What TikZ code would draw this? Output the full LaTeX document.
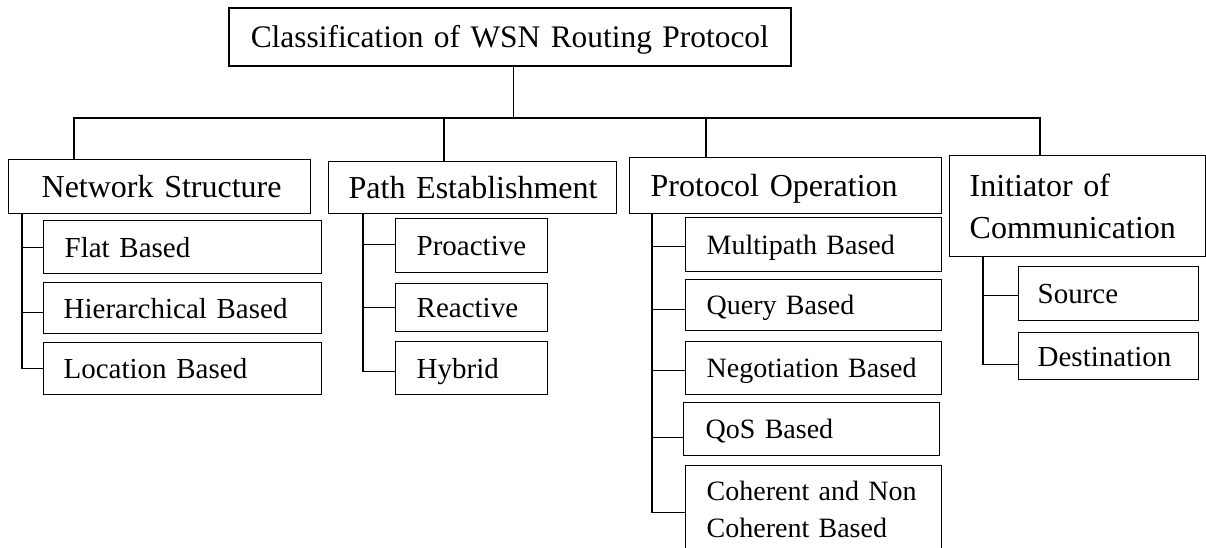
\documentclass[tikz,border=0pt]{standalone}
\usepackage{fontspec}
\setmainfont{Liberation Serif}
\tikzset{
  box/.style={draw, line width=1.3pt, rectangle, anchor=north west, inner xsep=0pt, inner ysep=0pt, align=left},
  lpad/.style={execute at begin node={\leftskip=#1\relax}},
  tfont/.style={font=\fontsize{31.4}{42}\selectfont},
  hfont/.style={font=\fontsize{32}{42}\selectfont},
  lfont/.style={font=\fontsize{29}{37}\selectfont},
  pfont/.style={font=\fontsize{28}{37}\selectfont},
  h32/.style={text height=22.4pt, text depth=0pt},
  h29/.style={text height=20.3pt, text depth=0pt},
  h28/.style={text height=19.6pt, text depth=0pt},
  link/.style={line width=1.3pt},
}
\begin{document}
\begin{tikzpicture}[x=1pt,y=-1pt]
\useasboundingbox (0,0) rectangle (1206,548);
\clip (0,0) rectangle (1206,548);
\coordinate (bar) at (0,118);

% title
\node[box,tfont,h32,align=center,text width=562pt,minimum height=58pt,line width=1.6pt] (title) at (228,7) {Classification of WSN Routing Protocol};

% categories
\node[box,hfont,h32,text width=302pt,minimum height=54pt,lpad=33pt] (ns) at (8,159) {Network Structure};
\node[box,hfont,h32,text width=288pt,minimum height=52pt,lpad=20pt] (pe) at (328,161) {Path Establishment};
\node[box,hfont,h32,text width=312pt,minimum height=56pt,lpad=21pt] (po) at (629,157) {Protocol Operation};
\node[box,hfont,text width=256pt,minimum height=101pt,lpad=20pt] (ic) at (949,155) {Initiator of\\Communication};

% network structure leaves
\node[box,lfont,h29,text width=278pt,minimum height=53pt,lpad=21pt] (flat) at (43,220) {Flat Based};
\node[box,lfont,h29,text width=278pt,minimum height=51pt,lpad=20pt] (hier) at (43,282) {Hierarchical Based};
\node[box,lfont,h29,text width=278pt,minimum height=52pt,lpad=20pt] (loc) at (43,342) {Location Based};

% path establishment leaves
\node[box,lfont,h29,text width=152pt,minimum height=54pt,lpad=21pt] (proa) at (395,218) {Proactive};
\node[box,lfont,h29,text width=152pt,minimum height=48pt,lpad=21pt] (reac) at (395,283) {Reactive};
\node[box,lfont,h29,text width=152pt,minimum height=53pt,lpad=21pt] (hyb) at (395,341) {Hybrid};

% protocol operation leaves
\node[box,pfont,h28,text width=256pt,minimum height=54pt,lpad=21pt] (multi) at (685,217) {Multipath Based};
\node[box,pfont,h28,text width=256pt,minimum height=51pt,lpad=21pt] (query) at (685,279) {Query Based};
\node[box,pfont,h28,text width=256pt,minimum height=53pt,lpad=21pt] (nego) at (685,341) {Negotiation Based};
\node[box,pfont,h28,text width=256pt,minimum height=53pt,lpad=22pt] (qos) at (683,402) {QoS Based};
\node[box,pfont,text width=256pt,minimum height=88pt,lpad=21pt] (coh) at (685,465) {Coherent and Non\\Coherent Based};

% initiator leaves
\node[box,lfont,h29,text width=180pt,minimum height=54pt,lpad=19pt] (src) at (1018,266) {Source};
\node[box,lfont,h29,text width=180pt,minimum height=47pt,lpad=19pt] (dst) at (1018,332) {Destination};

% top connectors
\draw[link] ([xshift=4pt]title.south) -- ([xshift=4pt]title.south |- bar);
\draw[link] ([xshift=66pt]ns.north west) -- ([xshift=66pt]ns.north west |- bar)
  -- ([xshift=91pt]ic.north west |- bar) -- ([xshift=91pt]ic.north west);
\draw[link] ([xshift=116pt]pe.north west) -- ([xshift=116pt]pe.north west |- bar);
\draw[link] ([xshift=77pt]po.north west) -- ([xshift=77pt]po.north west |- bar);

% trunks
\coordinate (nst) at ([xshift=14pt]ns.south west);
\coordinate (pet) at ([xshift=35pt]pe.south west);
\coordinate (pot) at ([xshift=23pt]po.south west);
\coordinate (ict) at ([xshift=34pt]ic.south west);

\draw[link] (nst) |- (loc.west);
\draw[link] (flat.west) -- (flat.west -| nst);
\draw[link] ([yshift=-4.5pt]hier.west) -- ([yshift=-4.5pt]hier.west -| nst);

\draw[link] (pet) |- ([yshift=-3.5pt]hyb.west);
\draw[link] ([yshift=1pt]proa.west) -- ([yshift=1pt]proa.west -| pet);
\draw[link] (reac.west) -- (reac.west -| pet);

\draw[link] (pot) |- ([yshift=-3pt]coh.west);
\draw[link] ([yshift=-2pt]multi.west) -- ([yshift=-2pt]multi.west -| pot);
\draw[link] ([yshift=-4.5pt]query.west) -- ([yshift=-4.5pt]query.west -| pot);
\draw[link] ([yshift=-2.5pt]nego.west) -- ([yshift=-2.5pt]nego.west -| pot);
\draw[link] ([yshift=-8.5pt]qos.west) -- ([yshift=-8.5pt]qos.west -| pot);

\draw[link] (ict) |- ([yshift=-8.5pt]dst.west);
\draw[link] ([yshift=-2pt]src.west) -- ([yshift=-2pt]src.west -| ict);
\end{tikzpicture}
\end{document}
